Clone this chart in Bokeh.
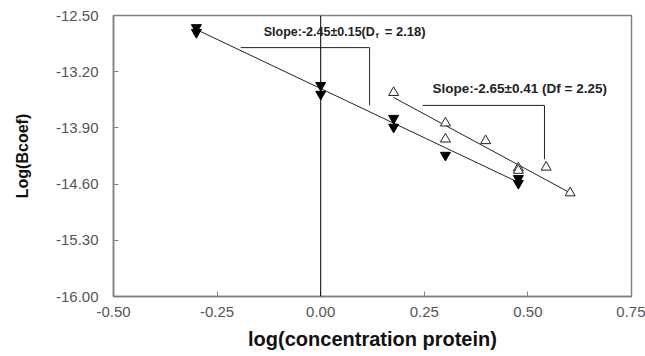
import numpy as np
from bokeh.plotting import figure
from bokeh.models import FixedTicker, PrintfTickFormatter, Span, Label
from bokeh.embed import file_html
from bokeh.resources import INLINE

# data
x_filled = [-0.30, -0.30, 0.0, 0.0, 0.176, 0.176, 0.301, 0.477, 0.477]
y_filled = [-12.65, -12.71, -13.37, -13.48, -13.78, -13.89, -14.24, -14.53, -14.59]
x_open = [0.176, 0.301, 0.301, 0.398, 0.477, 0.477, 0.544, 0.602]
y_open = [-13.46, -13.84, -14.04, -14.06, -14.40, -14.43, -14.39, -14.71]
fit1_slope, fit1_icpt, fit1_range = -2.45, -13.41, [-0.30, 0.477]
fit2_slope, fit2_icpt, fit2_range = -2.79, -13.03, [0.176, 0.602]
x_ticks = [-0.50, -0.25, 0.00, 0.25, 0.50, 0.75]
y_ticks = [-16.00, -15.30, -14.60, -13.90, -13.20, -12.50]
bracket1_x = [-0.193, 0.118, 0.118]
bracket1_y = [-12.90, -12.90, -13.62]
bracket2_x = [0.246, 0.540, 0.540]
bracket2_y = [-13.62, -13.62, -14.29]

FONT = "Liberation Sans"

p = figure(width=645, height=356, x_range=(-0.5, 0.75), y_range=(-16.0, -12.5),
           output_backend="svg", toolbar_location=None,
           min_border_left=113, min_border_right=14, min_border_top=15, min_border_bottom=60)
p.grid.visible = False
p.outline_line_color = "#808080"
p.outline_line_width = 1.5
p.background_fill_color = "white"
p.border_fill_color = "white"

for ax in (p.xaxis[0], p.yaxis[0]):
    ax.axis_line_color = "#808080"
    ax.axis_line_width = 1.5
    ax.major_tick_line_color = "#808080"
    ax.major_tick_in = 5
    ax.major_tick_out = 0
    ax.minor_tick_line_color = None
    ax.major_label_text_font = FONT
    ax.major_label_text_font_size = "15px"
    ax.major_label_text_color = "#555555"
    ax.axis_label_text_font = FONT
    ax.axis_label_text_font_style = "bold"
    ax.axis_label_text_color = "#111111"
    ax.formatter = PrintfTickFormatter(format="%.2f")

p.xaxis.ticker = FixedTicker(ticks=x_ticks)
p.yaxis.ticker = FixedTicker(ticks=y_ticks)
p.xaxis.axis_label = "log(concentration protein)"
p.yaxis.axis_label = "Log(Bcoef)"
p.xaxis.axis_label_text_font_size = "20px"
p.yaxis.axis_label_text_font_size = "16px"
p.xaxis.major_label_standoff = 10
p.xaxis.axis_label_standoff = 8
p.yaxis.major_label_standoff = 15
p.yaxis.axis_label_standoff = 22

p.add_layout(Span(location=0, dimension="height", line_color="black", line_width=1))

fx1 = np.array(fit1_range)
p.line(fx1, fit1_icpt + fit1_slope * fx1, line_color="#222222", line_width=1)
fx2 = np.array(fit2_range)
p.line(fx2, fit2_icpt + fit2_slope * fx2, line_color="#222222", line_width=1)

p.line(bracket1_x, bracket1_y, line_color="#222222", line_width=1)
p.line(bracket2_x, bracket2_y, line_color="#222222", line_width=1)

p.scatter(x_filled, y_filled, marker="inverted_triangle", size=10,
          fill_color="black", line_color="black")
p.scatter(x_open, y_open, marker="triangle", size=10,
          fill_color="white", line_color="#222222", line_width=1)

def lab(x, y, t, size="13px", xo=0, yo=0):
    p.add_layout(Label(x=x, y=y, text=t, x_offset=xo, y_offset=yo,
                       text_font=FONT, text_font_style="bold", text_font_size=size,
                       text_color="#222222", text_align="left", text_baseline="middle"))

lab(-0.1375, -12.70, "Slope:-2.45\u00b10.15(D", size="12.5px")
lab(-0.1375, -12.70, "f", size="8px", xo=112, yo=-4)
lab(-0.1375, -12.70, "= 2.18)", xo=121)
lab(0.270, -13.41, "Slope:-2.65\u00b10.41 (Df = 2.25)", size="13.5px")

open("out.html", "w").write(file_html(p, INLINE))
